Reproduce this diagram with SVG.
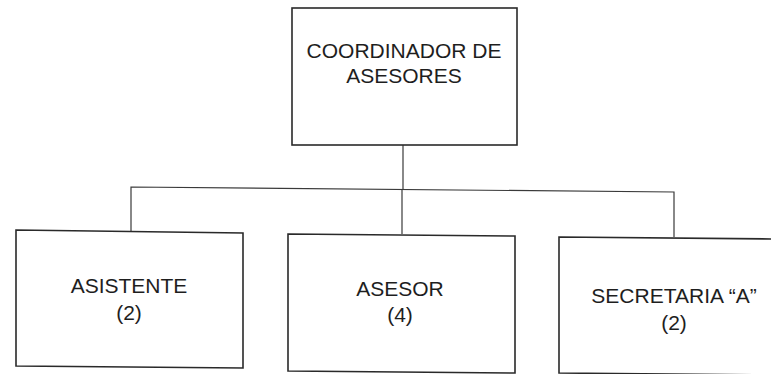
<svg xmlns="http://www.w3.org/2000/svg" width="771" height="374" viewBox="0 0 771 374">
<style>
.box{fill:none;stroke:#2a2a2a;stroke-width:1.6}
.conn{fill:none;stroke:#3a3a3a;stroke-width:1.2}
text{font-family:"Liberation Sans",Arial,sans-serif;font-size:21px;fill:#1e1e1e;text-anchor:middle}
</style>
<rect width="771" height="374" fill="#ffffff"/>
<g id="connectors">
<line class="conn" x1="403" y1="145" x2="403" y2="189"/>
<polyline class="conn" points="131,231 131,187 674,192 674,237"/>
<line class="conn" x1="402" y1="189" x2="402" y2="234"/>
</g>
<g id="coordinador">
<rect class="box" x="292" y="8" width="225" height="137"/>
<text x="404" y="58">COORDINADOR DE</text>
<text x="404" y="83">ASESORES</text>
</g>
<g id="asistente">
<polygon class="box" points="16,230 243,233 243,368 16,366"/>
<text x="129" y="293">ASISTENTE</text>
<text x="129" y="320">(2)</text>
</g>
<g id="asesor">
<polygon class="box" points="288,234 515,236 515,373 288,371"/>
<text x="400" y="296">ASESOR</text>
<text x="400" y="322">(4)</text>
</g>
<g id="secretaria">
<polygon class="box" points="559,237 776,239 776,375 559,373"/>
<text x="674" y="303">SECRETARIA “A”</text>
<text x="674" y="330">(2)</text>
</g>
</svg>
